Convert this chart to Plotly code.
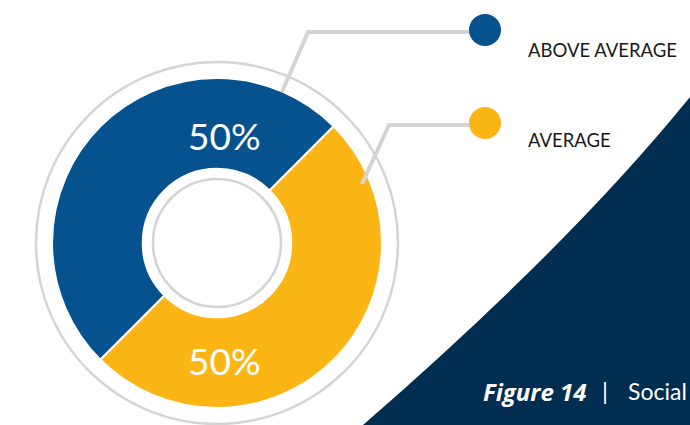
import plotly.graph_objects as go

categories = ["ABOVE AVERAGE", "AVERAGE"]
values = [50, 50]
colors = ["#05528f", "#fbb616"]
pct_labels = ["50%", "50%"]

W, H = 690, 425
cx, cy, R = 217, 243, 165
GREY = "#d4d4d4"
NAVY = "#012d51"

fig = go.Figure()

fig.add_trace(go.Pie(
    labels=categories, values=values, sort=False, direction="clockwise",
    rotation=225, hole=0.45, textinfo="none", hoverinfo="label+percent",
    marker=dict(colors=colors, line=dict(color="white", width=2)),
    domain=dict(x=[(cx - R) / W, (cx + R) / W], y=[(H - cy - R) / H, (H - cy + R) / H]),
    showlegend=False,
))

shapes = []
# navy curved background
shapes.append(dict(type="path", xref="x", yref="y", layer="below",
                   path="M 690,97 Q 570,245 363,425 L 690,425 Z",
                   fillcolor=NAVY, line=dict(width=0)))
# outer grey ring
ro = 181
shapes.append(dict(type="circle", xref="x", yref="y", x0=cx - ro, x1=cx + ro, y0=cy - ro, y1=cy + ro,
                   line=dict(color=GREY, width=2.5), fillcolor="rgba(0,0,0,0)"))
# inner grey ring
ri = 64
shapes.append(dict(type="circle", xref="x", yref="y", x0=cx - ri, x1=cx + ri, y0=cy - ri, y1=cy + ri,
                   line=dict(color=GREY, width=2.5), fillcolor="rgba(0,0,0,0)"))
# callout lines
shapes.append(dict(type="path", xref="x", yref="y", path="M 282,92 L 308,32 L 480,32",
                   line=dict(color=GREY, width=4)))
shapes.append(dict(type="path", xref="x", yref="y", path="M 362,184 L 389,125 L 480,125",
                   line=dict(color=GREY, width=4)))
# legend dots
for (yc, c) in [(30, colors[0]), (123, colors[1])]:
    shapes.append(dict(type="circle", xref="x", yref="y", x0=485 - 16, x1=485 + 16, y0=yc - 16, y1=yc + 16,
                       line=dict(width=0), fillcolor=c))

annotations = []
for (txt, yc) in [(pct_labels[0], 135.5), (pct_labels[1], 360.5)]:
    annotations.append(dict(x=224, y=yc, xref="x", yref="y", text=txt, showarrow=False,
                            font=dict(family="Lato", size=37, color="white"),
                            xanchor="center", yanchor="middle"))
for (txt, yc) in [(categories[0], 49.5), (categories[1], 140)]:
    annotations.append(dict(x=526, y=yc, xref="x", yref="y", text=txt, showarrow=False,
                            font=dict(family="Lato", size=18.5, color="#1a1a1a"),
                            xanchor="left", yanchor="middle"))
annotations.append(dict(x=481, y=391, xref="x", yref="y", text="<b><i>Figure 14</i></b>", showarrow=False,
                        font=dict(family="Open Sans", size=24, color="white"), xanchor="left", yanchor="middle"))
annotations.append(dict(x=605, y=390, xref="x", yref="y", text="|", showarrow=False,
                        font=dict(family="Lato", size=24, color="white"), xanchor="center", yanchor="middle"))
annotations.append(dict(x=626, y=391, xref="x", yref="y", text="Social", showarrow=False,
                        font=dict(family="Lato", size=23, color="white"), xanchor="left", yanchor="middle"))

fig.update_layout(
    width=W, height=H, margin=dict(l=0, r=0, t=0, b=0),
    paper_bgcolor="white", plot_bgcolor="white",
    xaxis=dict(range=[0, W], visible=False, fixedrange=True),
    yaxis=dict(range=[H, 0], visible=False, fixedrange=True),
    shapes=shapes, annotations=annotations,
)

fig.write_html("out.html")
